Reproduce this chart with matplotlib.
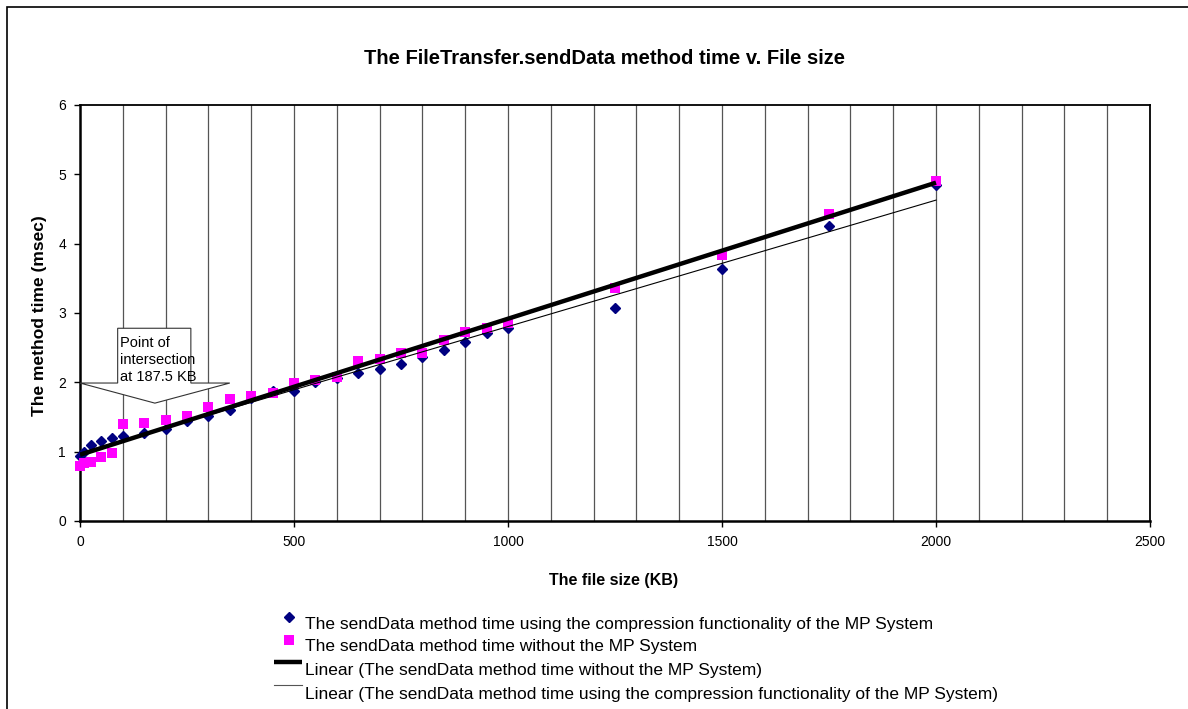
import numpy as np
import matplotlib
matplotlib.use("Agg")
import matplotlib.pyplot as plt
from matplotlib.patches import Polygon, Rectangle
from matplotlib.lines import Line2D

plt.rcParams['font.family'] = ['Liberation Sans', 'DejaVu Sans']

# File sizes (KB)
file_size = [1, 10, 25, 50, 75, 100, 150, 200, 250, 300, 350, 400, 450, 500,
             550, 600, 650, 700, 750, 800, 850, 900, 950, 1000, 1250, 1500,
             1750, 2000]

# sendData time with the compression functionality (msec)
time_compression = [0.94, 1.00, 1.09, 1.16, 1.20, 1.22, 1.27, 1.33, 1.44, 1.51,
                    1.60, 1.78, 1.87, 1.88, 2.00, 2.06, 2.13, 2.19, 2.27, 2.37,
                    2.46, 2.58, 2.71, 2.79, 3.07, 3.64, 4.26, 4.85]

# sendData time without the MP System (msec)
time_without = [0.79, 0.83, 0.85, 0.92, 0.98, 1.40, 1.42, 1.45, 1.51, 1.64,
                1.76, 1.81, 1.85, 1.99, 2.03, 2.08, 2.31, 2.34, 2.42, 2.43,
                2.61, 2.72, 2.78, 2.86, 3.36, 3.84, 4.43, 4.90]

x_ticks = [0, 500, 1000, 1500, 2000, 2500]
y_ticks = [0, 1, 2, 3, 4, 5, 6]

title = "The FileTransfer.sendData method time v. File size"
x_label = "The file size (KB)"
y_label = "The method time (msec)"
legend_labels = [
    "The sendData method time using the compression functionality of the MP System",
    "The sendData method time without the MP System",
    "Linear (The sendData method time without the MP System)",
    "Linear (The sendData method time using the compression functionality of the MP System)",
]
callout_text = "Point of\nintersection\nat 187.5 KB"

W, H = 1188, 709
fig = plt.figure(figsize=(W / 100, H / 100), dpi=100)


def fx(px):
    return px / W


def fy(py):
    return 1 - py / H


# chart-area frame
fig.patches.append(Rectangle((fx(7), fy(760)), fx(1250), fy(7) - fy(760),
                             transform=fig.transFigure, fill=False,
                             edgecolor='black', linewidth=1.2))

ax = fig.add_axes([fx(80), fy(521), fx(1150) - fx(80), fy(105) - fy(521)])

x = np.array(file_size, dtype=float)
yc = np.array(time_compression)
yw = np.array(time_without)

# vertical grid every 100 KB
for gx in np.arange(100, 2500, 100):
    ax.axvline(gx, color='#555555', linewidth=0.9, zorder=1)

ax.plot(x, yc, linestyle='none', marker='D', markersize=5.5,
        color='#000080', zorder=3, clip_on=False)
ax.plot(x, yw, linestyle='none', marker='s', markersize=7,
        color='#FF00FF', markeredgewidth=0, zorder=4, clip_on=False)

# least-squares trend lines
xs = np.array([0, max(file_size)], dtype=float)
bw = np.polyfit(x, yw, 1)
bc = np.polyfit(x, yc, 1)
ax.plot(xs, np.polyval(bw, xs), color='black', linewidth=3.2, zorder=5,
        solid_capstyle='butt')
ax.plot(xs, np.polyval(bc, xs), color='black', linewidth=0.8, zorder=5)

ax.set_xlim(0, 2500)
ax.set_ylim(0, 6)
ax.set_xticks(x_ticks)
ax.set_yticks(y_ticks)
ax.tick_params(direction='out', length=4, width=1, labelsize=10, pad=6)
for s in ['top', 'right']:
    ax.spines[s].set_linewidth(1.3)
for s in ['left', 'bottom']:
    ax.spines[s].set_linewidth(1.8)

# callout arrow pointing at the intersection
callout = [(88, 2.78), (259, 2.78), (259, 1.99), (350, 1.99), (175, 1.70),
           (0, 1.99), (88, 1.99)]
ax.add_patch(Polygon(callout, closed=True, facecolor='white',
                     edgecolor='#333333', linewidth=0.8, zorder=6,
                     clip_on=False))
ax.text(93, 2.67, callout_text, fontsize=10.5, va='top', ha='left',
        linespacing=1.3, zorder=7)

fig.text(fx(605), fy(58), title, fontsize=14.5, fontweight='bold',
         ha='center', va='center')
fig.text(fx(614), fy(581), x_label, fontsize=11.5, fontweight='bold',
         ha='center', va='center')
fig.text(fx(40), fy(316), y_label, fontsize=12.5, fontweight='bold',
         ha='center', va='center', rotation=90)

# legend
text_x = 305
rows = [624, 647, 670, 694]
fig.add_artist(Line2D([fx(289)], [fy(617)], marker='D', markersize=5.5,
                      color='#000080', linestyle='none',
                      transform=fig.transFigure))
fig.add_artist(Line2D([fx(289)], [fy(640)], marker='s', markersize=7,
                      color='#FF00FF', markeredgewidth=0, linestyle='none',
                      transform=fig.transFigure))
fig.add_artist(Line2D([fx(274), fx(302)], [fy(662), fy(662)], color='black',
                      linewidth=3.2, solid_capstyle='butt',
                      transform=fig.transFigure))
fig.add_artist(Line2D([fx(274), fx(302)], [fy(685), fy(685)], color='#555555',
                      linewidth=0.8, transform=fig.transFigure))
for ry, lab in zip(rows, legend_labels):
    fig.text(fx(text_x), fy(ry), lab, fontsize=12.5, ha='left', va='center')

fig.savefig("out.png", dpi=100)
